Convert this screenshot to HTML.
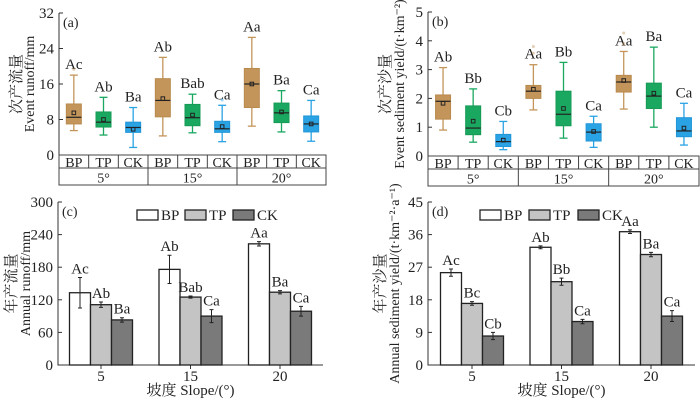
<!DOCTYPE html>
<html><head><meta charset="utf-8">
<style>
html,body{margin:0;padding:0;background:#fff;}
svg{display:block;font-family:"Liberation Serif","Noto Serif CJK SC",serif;}
</style></head>
<body>
<svg id="c" width="700" height="401" viewBox="0 0 700 401" xmlns="http://www.w3.org/2000/svg"></svg>
<script>
// ---- data ----
const treatments = ['BP','TP','CK'];
const slopes = ['5°','15°','20°'];
const slopeNums = ['5','15','20'];
// panel a: [whiskerLow, q1, median, q3, whiskerHigh, mean]
const runoffBP = [[5.5,7,8.5,11.5,18,9.5],[4.3,8.6,12.3,17.2,22,12.7],[6.5,10.7,16,19.5,26.5,16]];
const runoffTP = [[4.5,6.3,7.4,9.7,13,8],[5,6.6,8.4,11.4,13.7,9],[5.2,7.3,9.5,11.7,14.5,9.7]];
const runoffCK = [[1.7,5.1,6.2,7.4,10.7,5.8],[3,5.1,5.9,7.6,11.2,6.4],[3.1,5.2,7,8.8,12.3,7]];
const runoffOutliers = [[0,0,19.3],[2,1,12.4]]; // [treatIdx, slopeIdx, value]
const runoffLetters = [['Ac','Ab','Aa'],['Ab','Bab','Ba'],['Ba','Ca','Ca']];
const runoffTicks = [0,8,16,24,32];
// panel b
const sedBP = [[0.9,1.28,1.9,2.12,3.07,1.83],[1.6,2.0,2.25,2.45,3.17,2.32],[1.63,2.22,2.57,2.8,3.63,2.62]];
const sedTP = [[0.48,0.74,0.97,1.74,2.33,1.21],[0.62,1.05,1.45,2.25,3.25,1.65],[1.0,1.65,2.08,2.53,3.78,2.18]];
const sedCK = [[0.22,0.33,0.5,0.75,1.2,0.55],[0.3,0.52,0.83,1.12,1.38,0.85],[0.38,0.67,0.87,1.33,1.83,0.97]];
const sedOutliers = [[0,1,3.57],[0,1,3.8],[0,2,3.9],[0,2,4.27]];
const sedLetters = [['Ab','Aa','Aa'],['Bb','Bb','Ba'],['Cb','Ca','Ca']];
const sedTicks = [0,1,2,3,4,5];
// panel c
const annRunoffMean = [[133,176,223],[111,125,134],[83,90,99]];
const annRunoffErr = [[28,26,4],[5,2,3],[4,12,9]];
const annRunoffLetters = [['Ac','Ab','Aa'],['Ab','Bab','Ba'],['Ba','Ca','Ca']];
const annRunoffTicks = [0,60,120,180,240,300];
// panel d
const annSedMean = [[25.5,32.5,36.8],[17,23,30.5],[8,12,13.5]];
const annSedErr = [[1,0.4,0.5],[0.5,1,0.6],[1,0.6,1.5]];
const annSedLetters = [['Ac','Ab','Aa'],['Bc','Bb','Ba'],['Cb','Ca','Ca']];
const annSedTicks = [0,9,18,27,36,45];

const NS='http://www.w3.org/2000/svg';
const svg=document.getElementById('c');
function mk(tag,attrs,parent){const e=document.createElementNS(NS,tag);for(const k in attrs)e.setAttribute(k,attrs[k]);(parent||svg).appendChild(e);return e;}
function txt(x,y,s,size,anchor,parent,extra){const t=mk('text',Object.assign({x:x,y:y,'font-size':size,'text-anchor':anchor||'middle',fill:'#222'},extra||{}),parent);t.textContent=s;return t;}

const boxCol=['#c4955a','#1aa860','#2aa3e4'];
const boxEdge=['#b88a4e','#169a55','#2196d8'];
const barCol=['#ffffff','#c4c4c4','#7a7a7a'];

function boxPanel(opt){
  const g=mk('g',{});
  
  
  const y=v=>opt.y0-(v-opt.vmin)/(opt.vmax-opt.vmin)*(opt.y0-opt.y1);
  const ax=mk('line',{x1:opt.ax,y1:opt.y1,x2:opt.ax,y2:opt.y0,stroke:'#333','stroke-width':1},g);
  
  
  opt.ticks.forEach(t=>{
    mk('line',{x1:opt.ax,x2:opt.ax+4,y1:y(t),y2:y(t),stroke:'#333'},g);
    const l=txt(opt.ax-5,y(t)+5,String(t),15,'end',g);
    
    
  });
  const pl=txt(opt.ax+4,opt.y1+14,opt.label,14,'start',g);
  
  
  const t1=txt(0,0,opt.zh,15,'middle',g,{transform:`translate(${opt.zhx},${(opt.y0+opt.y1)/2}) rotate(-90)`});
  
  
  const t2=txt(0,0,opt.en,14,'middle',g,{transform:`translate(${opt.enx},${(opt.y0+opt.y1)/2}) rotate(-90)`});
  
  
  const tb=mk('g',{},g);
  
  
  mk('rect',{x:opt.ax,y:opt.y0,width:opt.tr-opt.ax,height:30,fill:'none',stroke:'#444'},tb);
  mk('line',{x1:opt.ax,x2:opt.tr,y1:opt.y0+13,y2:opt.y0+13,stroke:'#444'},tb);
  const gw=(opt.tr-opt.ax)/3;
  slopes.forEach((s,si)=>{
    const gx=opt.ax+gw*si;
    if(si>0) mk('line',{x1:gx,x2:gx,y1:opt.y0,y2:opt.y0+30,stroke:'#444'},tb);
    txt(gx+gw/2,opt.y0+27.5,s,14,'middle',tb);
    treatments.forEach((tr,ti)=>{
      const cx=opt.ax+gw*si+gw*(ti+0.5)/3;
      if(ti>0) mk('line',{x1:gx+gw*ti/3,x2:gx+gw*ti/3,y1:opt.y0,y2:opt.y0+13,stroke:'#444'},tb);
      txt(cx,opt.y0+12,tr,14,'middle',tb);
      const d=opt.data[ti][si];
      const bg=mk('g',{},g);
      
      
      const w=15,c=boxCol[ti];
      mk('line',{x1:cx,x2:cx,y1:y(d[0]),y2:y(d[4]),stroke:c,'stroke-width':1.3},bg);
      mk('line',{x1:cx-4,x2:cx+4,y1:y(d[0]),y2:y(d[0]),stroke:c,'stroke-width':1.3},bg);
      mk('line',{x1:cx-4,x2:cx+4,y1:y(d[4]),y2:y(d[4]),stroke:c,'stroke-width':1.3},bg);
      mk('rect',{x:cx-w/2,y:y(d[3]),width:w,height:y(d[1])-y(d[3]),fill:c,stroke:boxEdge[ti]},bg);
      mk('line',{x1:cx-w/2,x2:cx+w/2,y1:y(d[2]),y2:y(d[2]),stroke:'#222','stroke-width':1.2},bg);
      mk('rect',{x:cx-1.8,y:y(d[5])-1.8,width:3.6,height:3.6,fill:'none',stroke:'#222','stroke-width':1},bg);
      const lt=txt(cx,y(d[4])-6,opt.letters[ti][si],15,'middle',bg);
      
      
    });
  });
  opt.outliers.forEach(o=>{
    const cx=opt.ax+gw*o[1]+gw*(o[0]+0.5)/3;
    const p=mk('circle',{cx:cx,cy:y(o[2]),r:1.5,fill:boxCol[o[0]],opacity:0.45},g);
    
    
  });
}

function barPanel(opt){
  const g=mk('g',{});
  
  
  const y=v=>opt.y0-(v-opt.vmin)/(opt.vmax-opt.vmin)*(opt.y0-opt.y1);
  const ax=mk('path',{d:`M${opt.ax},${opt.y1}V${opt.y0}H${opt.xr}`,fill:'none',stroke:'#333'},g);
  
  
  opt.ticks.forEach(t=>{
    mk('line',{x1:opt.ax,x2:opt.ax+4,y1:y(t),y2:y(t),stroke:'#333'},g);
    const l=txt(opt.ax-5,y(t)+5,String(t),15,'end',g);
    
    
  });
  const pl=txt(opt.ax+4,opt.y1+14,opt.label,14,'start',g);
  
  
  const t1=txt(0,0,opt.zh,15,'middle',g,{transform:`translate(${opt.zhx},${(opt.y0+opt.y1)/2}) rotate(-90)`});
  
  
  const t2=txt(0,0,opt.en,14,'middle',g,{transform:`translate(${opt.enx},${(opt.y0+opt.y1)/2}) rotate(-90)`});
  
  
  const xt=txt((opt.ax+opt.xr)/2,opt.y0+30,'坡度 Slope/(°)',15,'middle',g);
  
  
  treatments.forEach((tr,ti)=>{
    const lx=opt.legx+ti*opt.legdx;
    const le=mk('g',{},g);
    
    
    mk('rect',{x:lx,y:opt.y1+8,width:21,height:10,fill:barCol[ti],stroke:'#222','stroke-width':1.3},le);
    txt(lx+24,opt.y1+18,tr,15,'start',le);
  });
  const bw=21;
  slopeNums.forEach((s,si)=>{
    const gc=opt.gx0+si*opt.gdx;
    mk('line',{x1:gc,x2:gc,y1:opt.y0,y2:opt.y0+4,stroke:'#333'},g);
    const xl=txt(gc,opt.y0+16,s,15,'middle',g);
    
    
    treatments.forEach((tr,ti)=>{
      const v=opt.mean[ti][si],e=opt.err[ti][si];
      const bx=gc-1.5*bw+ti*bw;
      const b=mk('rect',{x:bx,y:y(v),width:bw,height:opt.y0-y(v),fill:barCol[ti],stroke:'#222','stroke-width':1.3},g);
      
      
      const cx=bx+bw/2;
      const eb=mk('path',{d:`M${cx},${y(v+e)}V${y(v-e)}M${cx-2},${y(v+e)}H${cx+2}M${cx-2},${y(v-e)}H${cx+2}`,stroke:'#222',fill:'none'},g);
      
      
      const lt=txt(cx,y(v+e)-4,opt.letters[ti][si],15,'middle',g);
      
      
    });
  });
}

boxPanel({name:'panel-a-event-runoff',ax:59,tr:326,y0:155,y1:13,vmin:0,vmax:32,ticks:runoffTicks,label:'(a)',
  zh:'次产流量',en:'Event runoff/mm',zhx:21,enx:34,data:[runoffBP,runoffTP,runoffCK],letters:runoffLetters,outliers:runoffOutliers});
boxPanel({name:'panel-b-event-sediment',ax:428,tr:699,y0:156,y1:12,vmin:0,vmax:5,ticks:sedTicks,label:'(b)',
  zh:'次产沙量',en:'Event sediment yield/(t·km⁻²)',zhx:390,enx:404,data:[sedBP,sedTP,sedCK],letters:sedLetters,outliers:sedOutliers});
barPanel({name:'panel-c-annual-runoff',ax:58,xr:323,y0:365,y1:202,vmin:0,vmax:300,ticks:annRunoffTicks,label:'(c)',
  zh:'年产流量',en:'Annual runoff/mm',zhx:16,enx:30,gx0:101,gdx:89.5,mean:annRunoffMean,err:annRunoffErr,letters:annRunoffLetters,legx:137,legdx:48});
barPanel({name:'panel-d-annual-sediment',ax:428,xr:695,y0:365,y1:202,vmin:0,vmax:45,ticks:annSedTicks,label:'(d)',
  zh:'年产沙量',en:'Annual sediment yield/(t·km⁻²·a⁻¹)',zhx:385,enx:399,gx0:472,gdx:89.5,mean:annSedMean,err:annSedErr,letters:annSedLetters,legx:480,legdx:49});
</script>
</body></html>
